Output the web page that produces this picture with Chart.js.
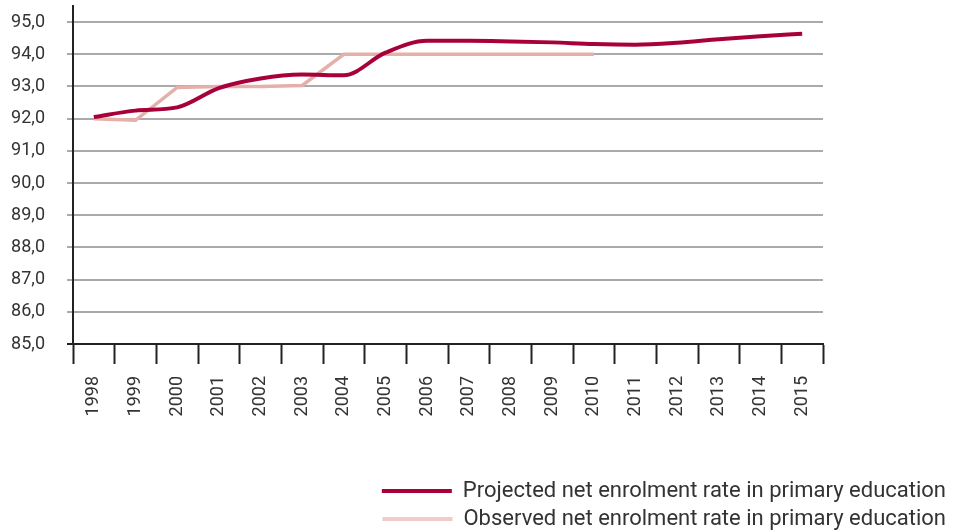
<!DOCTYPE html>
<html>
<head>
<meta charset="utf-8">
<script src="https://cdn.jsdelivr.net/npm/chart.js@4"></script>
<style>
  html, body { margin: 0; padding: 0; background: #fff; }
  #wrap { width: 961px; height: 532px; }
</style>
</head>
<body>
<div id="wrap"><canvas id="lineChart" width="961" height="532"></canvas></div>
<script>
const years = ['1998', '1999', '2000', '2001', '2002', '2003', '2004', '2005', '2006',
  '2007', '2008', '2009', '2010', '2011', '2012', '2013', '2014', '2015'];
const projected = [92.05, 92.25, 92.35, 92.95, 93.25, 93.37, 93.35, 94.05, 94.42,
  94.42, 94.4, 94.37, 94.32, 94.3, 94.36, 94.47, 94.56, 94.64];
const observed = [92.0, 91.95, 92.97, 93.0, 93.0, 93.03, 94.0, 94.0, 94.0,
  94.0, 94.0, 94.0, 94.0, null, null, null, null, null];
const yTicks = [85, 86, 87, 88, 89, 90, 91, 92, 93, 94, 95];

const FONT = 'Roboto, "Open Sans", sans-serif';
const TEXT = '#333333';

const ctx = document.getElementById('lineChart');
const myChart = new Chart(ctx, {
  type: 'line',
  data: {
    labels: years,
    datasets: [
      {
        label: 'Projected net enrolment rate in primary education',
        data: projected,
        borderColor: '#A8003A',
        backgroundColor: '#A8003A',
        borderWidth: 4,
        pointRadius: 0,
        cubicInterpolationMode: 'monotone',
        order: 1,
      },
      {
        label: 'Observed net enrolment rate in primary education',
        data: observed,
        borderColor: '#E5B0AA',
        backgroundColor: '#F0CCC9',
        borderWidth: 3.5,
        pointRadius: 0,
        tension: 0,
        order: 2,
      },
    ],
  },
  options: {
    responsive: false,
    animation: false,
    layout: { padding: { top: 6, right: 9, left: 0, bottom: -8 } },
    plugins: {
      tooltip: { enabled: false },
      legend: {
        position: 'bottom',
        align: 'end',
        labels: {
          boxWidth: 70,
          boxHeight: 4,
          padding: 6,
          color: TEXT,
          font: { family: FONT, size: 22 },
          generateLabels: (chart) => chart.data.datasets.map((ds, i) => ({
            text: ds.label,
            fillStyle: ds.backgroundColor,
            strokeStyle: ds.backgroundColor,
            lineWidth: 0,
            datasetIndex: i,
            fontColor: TEXT,
          })),
        },
      },
    },
    scales: {
      x: {
        offset: true,
        border: { color: '#222', width: 2 },
        grid: {
          offset: true,
          drawOnChartArea: false,
          tickLength: 20,
          tickColor: '#222',
          tickWidth: 2,
        },
        ticks: {
          minRotation: 90,
          maxRotation: 90,
          padding: 12,
          color: TEXT,
          font: { family: FONT, size: 18 },
        },
        afterFit: (scale) => { scale.height = 130; },
      },
      y: {
        min: 85,
        max: 95.5,
        afterBuildTicks: (scale) => {
          scale.ticks = yTicks.map((v) => ({ value: v }));
        },
        border: { color: '#222', width: 2 },
        grid: {
          color: (c) => (c.tick && c.tick.value === 85 ? '#222' : '#AAAAAA'),
          lineWidth: 2,
          tickLength: 6,
        },
        ticks: {
          padding: 22,
          color: TEXT,
          font: { family: FONT, size: 18 },
          callback: (v) => v.toFixed(1).replace('.', ','),
        },
        afterFit: (scale) => {
          scale.width = 73;
          // tick padding would otherwise push the plot top down
          scale.paddingTop = 0;
          scale.paddingBottom = 0;
        },
      },
      yR: {
        axis: 'y',
        position: 'right',
        min: 0,
        max: 1,
        grid: { display: false },
        border: { display: false },
        ticks: { display: false },
        afterFit: (scale) => { scale.width = 129; },
      },
    },
  },
});
</script>
</body>
</html>
